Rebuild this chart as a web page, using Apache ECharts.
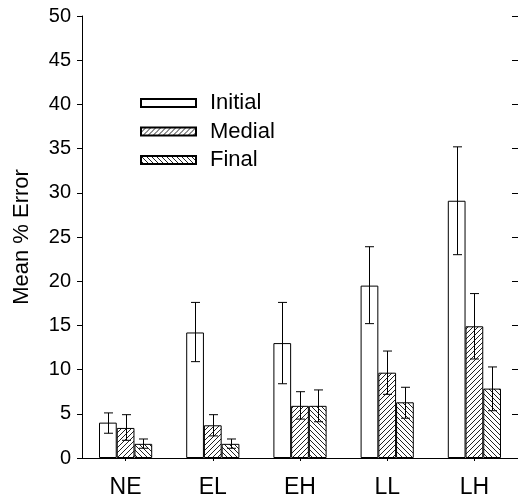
<!DOCTYPE html>
<html>
<head>
<meta charset="utf-8">
<script src="https://cdn.jsdelivr.net/npm/echarts@6/dist/echarts.min.js"></script>
<style>html,body{margin:0;padding:0;background:#fff}#c{width:518px;height:500px}</style>
</head>
<body>
<div id="c"></div>
<script>
var categories = ['NE', 'EL', 'EH', 'LL', 'LH'];
var seriesNames = ['Initial', 'Medial', 'Final'];
var initialMean = [4.0, 14.2, 13.0, 19.5, 29.1];
var initialLow  = [2.8, 10.9, 8.4, 15.2, 23.0];
var initialHigh = [5.1, 17.6, 17.6, 23.9, 35.2];
var medialMean  = [3.4, 3.7, 5.9, 9.65, 14.9];
var medialLow   = [2.0, 2.5, 4.4, 7.2, 11.2];
var medialHigh  = [4.9, 4.9, 7.5, 12.1, 18.6];
var finalMean   = [1.6, 1.6, 5.9, 6.3, 7.85];
var finalLow    = [1.1, 1.1, 4.1, 4.5, 5.35];
var finalHigh   = [2.15, 2.15, 7.7, 8.0, 10.3];
var yTicks = [0, 5, 10, 15, 20, 25, 30, 35, 40, 45, 50];

var FONT = '"Liberation Sans", Arial, sans-serif';

function hatch(dir) {
  var s = 5;
  var c = document.createElement('canvas');
  c.width = s; c.height = s;
  var g = c.getContext('2d');
  g.fillStyle = '#fff';
  g.fillRect(0, 0, s, s);
  g.strokeStyle = '#222';
  g.lineWidth = 1;
  g.beginPath();
  if (dir > 0) {
    g.moveTo(-1, s + 1); g.lineTo(s + 1, -1);
    g.moveTo(-1, 1); g.lineTo(1, -1);
    g.moveTo(s - 1, s + 1); g.lineTo(s + 1, s - 1);
  } else {
    g.moveTo(-1, -1); g.lineTo(s + 1, s + 1);
    g.moveTo(s - 1, -1); g.lineTo(s + 1, 1);
    g.moveTo(-1, s - 1); g.lineTo(1, s + 1);
  }
  g.stroke();
  return c;
}

var fills = ['#ffffff', {image: hatch(1), repeat: 'repeat'}, {image: hatch(-1), repeat: 'repeat'}];
var means = [initialMean, medialMean, finalMean];
var lows = [initialLow, medialLow, finalLow];
var highs = [initialHigh, medialHigh, finalHigh];
var CAT_GAP = 0.39;

var series = [];
seriesNames.forEach(function (name, si) {
  series.push({
    name: name,
    type: 'bar',
    data: means[si],
    barGap: '0%',
    barCategoryGap: (CAT_GAP * 100) + '%',
    itemStyle: {color: fills[si], borderColor: '#000', borderWidth: 1},
    emphasis: {disabled: true},
    z: 2
  });
});
seriesNames.forEach(function (name, si) {
  series.push({
    type: 'custom',
    name: name + '_err',
    data: categories.map(function (c, i) { return [i, lows[si][i], highs[si][i]]; }),
    z: 5,
    silent: true,
    renderItem: function (params, api) {
      var idx = api.value(0);
      var band = api.size([1, 0])[0];
      var bw = band * (1 - CAT_GAP) / 3;
      var off = (si - 1) * bw;
      var lo = api.coord([idx, api.value(1)]);
      var hi = api.coord([idx, api.value(2)]);
      var x = Math.round(lo[0] + off) + 0.5;
      var cap = 4.5;
      var st = {stroke: '#000', lineWidth: 1};
      return {
        type: 'group',
        children: [
          {type: 'line', shape: {x1: x, y1: lo[1], x2: x, y2: hi[1]}, style: st},
          {type: 'line', shape: {x1: x - cap, y1: hi[1], x2: x + cap, y2: hi[1]}, style: st},
          {type: 'line', shape: {x1: x - cap, y1: lo[1], x2: x + cap, y2: lo[1]}, style: st}
        ]
      };
    }
  });
});

var chart = echarts.init(document.getElementById('c'), null, {renderer: 'canvas'});
chart.setOption({
  animation: false,
  backgroundColor: '#fff',
  textStyle: {fontFamily: FONT},
  grid: {left: 82, right: -2, top: 16, bottom: 42, containLabel: false},
  legend: {
    data: seriesNames.map(function (n) { return {name: n, icon: 'rect'}; }),
    orient: 'vertical',
    left: 135,
    top: 87,
    itemWidth: 55,
    itemHeight: 8,
    itemGap: 6.5,
    textStyle: {fontFamily: FONT, fontSize: 22, color: '#000', padding: [0, 0, 0, 9], lineHeight: 22}
  },
  xAxis: [{
    type: 'category',
    data: categories,
    axisLine: {show: true, lineStyle: {color: '#000', width: 1}},
    axisTick: {show: true, alignWithLabel: true, length: 3, lineStyle: {color: '#000'}},
    axisLabel: {fontFamily: FONT, fontSize: 23, color: '#000', margin: 18},
    splitLine: {show: false}
  }, {
    type: 'category', data: categories, position: 'top',
    axisLine: {show: true, lineStyle: {color: '#000', width: 1}},
    axisTick: {show: false}, axisLabel: {show: false}, splitLine: {show: false}
  }],
  yAxis: [{
    type: 'value',
    min: yTicks[0],
    max: yTicks[yTicks.length - 1],
    interval: 5,
    name: 'Mean % Error',
    nameLocation: 'middle',
    nameRotate: 90,
    nameGap: 49,
    nameTextStyle: {fontFamily: FONT, fontSize: 22, color: '#000'},
    axisLine: {show: true, lineStyle: {color: '#000', width: 1}},
    axisTick: {show: true, length: 5, lineStyle: {color: '#000'}},
    axisLabel: {fontFamily: FONT, fontSize: 20, color: '#000', margin: 11},
    splitLine: {show: false}
  }, {
    type: 'value',
    position: 'right',
    min: yTicks[0],
    max: yTicks[yTicks.length - 1],
    interval: 5,
    axisLine: {show: true, lineStyle: {color: '#000', width: 1}},
    axisTick: {show: true, inside: true, length: 6, lineStyle: {color: '#000'}},
    axisLabel: {show: false},
    splitLine: {show: false}
  }],
  series: series
});
</script>
</body>
</html>
